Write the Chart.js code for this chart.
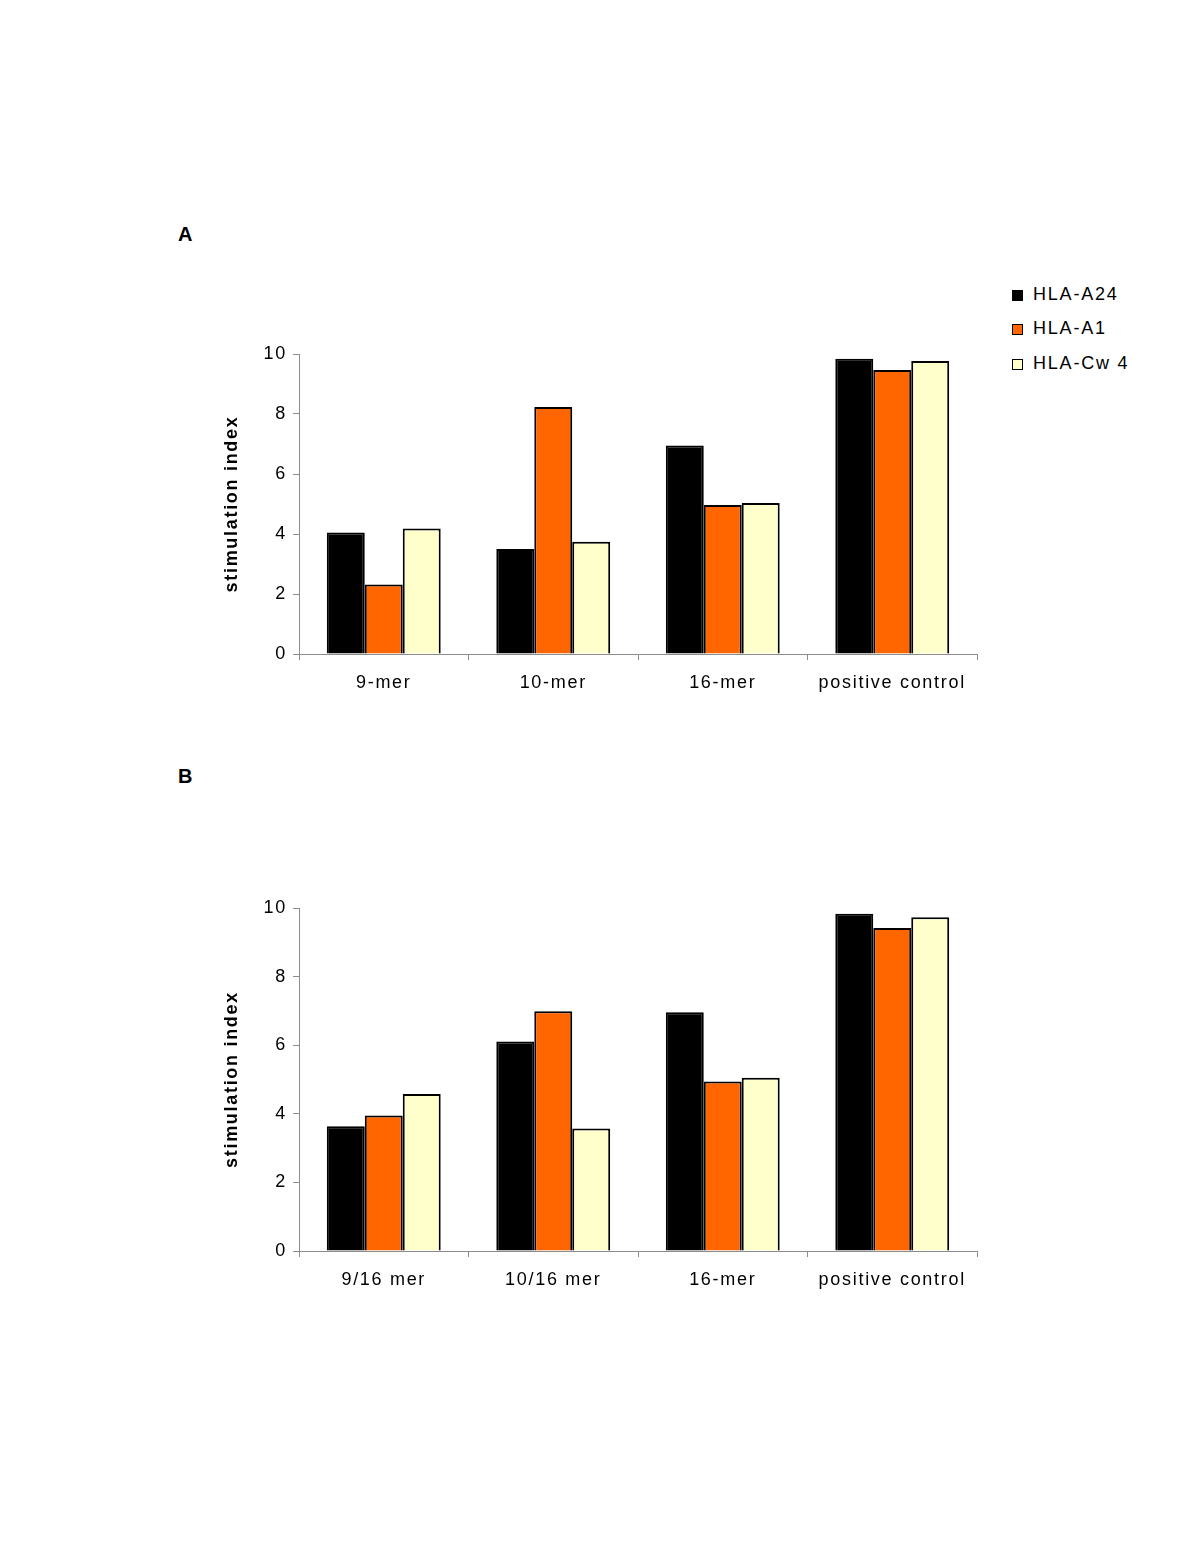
<!DOCTYPE html>
<html>
<head>
<meta charset="utf-8">
<script src="https://cdn.jsdelivr.net/npm/chart.js@4/dist/chart.umd.min.js"></script>
<style>
    body { margin: 0; background: #fff; width: 1200px; height: 1554px; position: relative; font-family: "Liberation Sans", Arial, sans-serif; }
    canvas { position: absolute; }
    .panel { position: absolute; font-weight: bold; font-size: 20px; line-height: 20px; }
    #legend { position: absolute; left: 1012px; top: 277px; }
    .row { display: flex; align-items: center; height: 34.5px; font-size: 18px; letter-spacing: 1.8px; color: #000; }
    .box { width: 9px; height: 9px; border: 1.5px solid #000; margin-right: 10px; margin-top: 2px; }
</style>
</head>
<body>
<div class="panel" style="left:178px; top:224px;">A</div>
<div class="panel" style="left:178px; top:766px;">B</div>
<div id="legend"></div>
<canvas id="chartA" width="800" height="380" style="left:200px; top:330px;"></canvas>
<canvas id="chartB" width="800" height="423" style="left:200px; top:884px;"></canvas>
<script>
document.addEventListener("DOMContentLoaded", () => {

    // data
    const categoriesA = ["9-mer", "10-mer", "16-mer", "positive control"];
    const categoriesB = ["9/16 mer", "10/16 mer", "16-mer", "positive control"];
    const seriesNames = ["HLA-A24", "HLA-A1", "HLA-Cw 4"];
    const seriesColors = ["#000000", "#ff6600", "#ffffcc"];

    const a24A = [4.05, 3.5, 6.95, 9.84];
    const a1A = [2.32, 8.23, 4.97, 9.47];
    const cw4A = [4.18, 3.74, 5.03, 9.77];

    const a24B = [3.64, 6.11, 6.96, 9.83];
    const a1B = [3.95, 6.99, 4.94, 9.42];
    const cw4B = [4.58, 3.57, 5.05, 9.73];

    const yMin = 0, yMax = 10, yStep = 2;
    const yTitle = "stimulation index";

    const font = "'Liberation Sans', Arial, sans-serif";
    const axisGray = "#8c8c8c";

    // wide letter spacing like the original print
    const spacing = {
        id: "spacing",
        beforeUpdate(chart) { chart.ctx.letterSpacing = "1.7px"; },
        beforeLayout(chart) { chart.ctx.letterSpacing = "1.7px"; },
        beforeDraw(chart) { chart.ctx.letterSpacing = "1.7px"; }
    };

    function makeChart(id, labels, rows) {
        const ctx = document.getElementById(id).getContext("2d");
        return new Chart(ctx, {
            type: "bar",
            data: {
                labels: labels,
                datasets: rows.map((vals, i) => ({
                    label: seriesNames[i],
                    data: vals,
                    backgroundColor: seriesColors[i],
                    borderColor: "#000",
                    borderWidth: 2,
                    borderSkipped: "start",
                    categoryPercentage: 0.672,
                    barPercentage: 1.0
                }))
            },
            options: {
                responsive: false,
                animation: false,
                devicePixelRatio: 1,
                layout: { padding: { top: 24, right: 23, left: 0, bottom: 0 } },
                plugins: {
                    legend: { display: false },
                    tooltip: { enabled: false }
                },
                scales: {
                    x: {
                        afterFit(scale) { scale.height = 56; },
                        grid: { offset: true, drawOnChartArea: false, color: axisGray, tickLength: 6 },
                        border: { color: axisGray, width: 1 },
                        ticks: { color: "#000", font: { family: font, size: 18 }, padding: 12, maxRotation: 0 }
                    },
                    y: {
                        min: yMin,
                        max: yMax,
                        afterFit(scale) { scale.width = 99; },
                        grid: { drawOnChartArea: false, color: axisGray, tickLength: 6 },
                        border: { color: axisGray, width: 1 },
                        ticks: { stepSize: yStep, color: "#000", font: { family: font, size: 18 }, padding: 6 },
                        title: {
                            display: true,
                            text: yTitle,
                            color: "#000",
                            font: { family: font, size: 18, weight: "bold" },
                            padding: { top: 21, bottom: 0 }
                        }
                    }
                }
            },
            plugins: [spacing]
        });
    }

    makeChart("chartA", categoriesA, [a24A, a1A, cw4A]);
    makeChart("chartB", categoriesB, [a24B, a1B, cw4B]);

    // legend
    const legendEl = document.getElementById("legend");
    legendEl.innerHTML = seriesNames.map((name, i) => `
        <div class="row"><div class="box" style="background:${seriesColors[i]}"></div>${name}</div>
    `).join("");
});
</script>
</body>
</html>
